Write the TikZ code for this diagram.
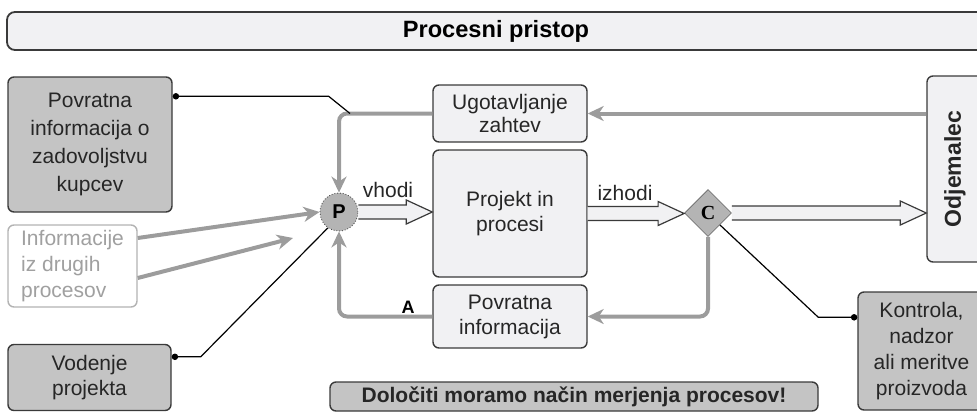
\documentclass[tikz,border=0pt]{standalone}
\usepackage{fontspec}
\usepackage{graphicx}
\setmainfont{Liberation Sans}
\newfontfamily\serifC{Liberation Serif}
\usetikzlibrary{calc}
\usetikzlibrary{arrows.meta}
\usetikzlibrary{shapes.geometric}

\definecolor{boxdark}{HTML}{C4C4C4}
\definecolor{boxlight}{HTML}{F1F1F3}
\definecolor{feedgray}{HTML}{9C9C9C}
\definecolor{edgegray}{HTML}{3A3A3A}
\definecolor{ghostgray}{HTML}{A0A0A0}
\definecolor{knotgray}{HTML}{B4B4B4}

\begin{document}
\begin{tikzpicture}[x=0.5pt, y=-0.5pt,
  box/.style={draw=edgegray, line width=0.7pt, rounded corners=3pt, align=center, inner sep=0pt, text=black!85, font=\fontsize{10.5}{13}\selectfont},
  darkbox/.style={box, fill=boxdark},
  lightbox/.style={box, fill=boxlight},
  ghostbox/.style={box, draw=ghostgray!80, fill=white, text=ghostgray, align=left},
  feed/.style={feedgray, line width=2pt, rounded corners=4pt, -{Stealth[length=8pt,width=7.5pt,inset=2.5pt]}},
  wire/.style={black, line width=0.6pt, {Circle[length=3.2pt]}-},
  hollow/.style={draw=edgegray, fill=boxlight, line width=0.6pt,
    to path={let \p1=(\tikztostart), \p2=(\tikztotarget) in
      (\x1,\y1+3.5pt) -- (\x2-13pt,\y1+3.5pt) -- (\x2-13pt,\y1+6pt) -- (\x2,\y1)
      -- (\x2-13pt,\y1-6pt) -- (\x2-13pt,\y1-3.5pt) -- (\x1,\y1-3.5pt)}},
  lbl/.style={font=\fontsize{10.5}{12}\selectfont, text=black!85, inner sep=0pt}]

\useasboundingbox (0,0) rectangle (977,412);

\node[draw=edgegray, line width=0.9pt, fill=boxlight, rounded corners=4pt, minimum width=489pt, minimum height=19pt, font=\bfseries\fontsize{11.8}{14}\selectfont] (naslov) at (496,31) {Procesni pristop};

\node[darkbox, minimum width=82pt, minimum height=67.5pt, font=\fontsize{10.5}{14}\selectfont] (kupci) at (90,144.5) {Povratna\\informacija o\\zadovoljstvu\\kupcev};
\node[ghostbox, minimum width=64.5pt, minimum height=41pt] (drugi) at (72.5,266) {Informacije\\iz drugih\\procesov};
\node[darkbox, minimum width=81.5pt, minimum height=33pt, font=\fontsize{10.5}{12.5}\selectfont] (vodenje) at (89.5,377.5) {Vodenje\\projekta};

\node[lightbox, minimum width=77pt, minimum height=28.5pt, font=\fontsize{10.5}{11.5}\selectfont] (zahteve) at (510,113.5) {Ugotavljanje\\zahtev};
\node[lightbox, minimum width=77pt, minimum height=63.5pt, font=\fontsize{10.5}{12.5}\selectfont] (projekt) at (510,213.5) {Projekt in\\procesi};
\node[lightbox, minimum width=77pt, minimum height=31.5pt, font=\fontsize{10.5}{12.5}\selectfont] (povratna) at (510,316.5) {Povratna\\informacija};

\node[lightbox, minimum width=28pt, minimum height=93pt] (odjemalec) at (955,169) {\rotatebox{90}{\bfseries\fontsize{11.5}{13}\selectfont Odjemalec}};
\node[darkbox, minimum width=63.5pt, minimum height=59pt] (kontrola) at (921.5,351) {Kontrola,\\nadzor\\ali meritve\\proizvoda};
\node[darkbox, minimum width=244pt, minimum height=14.5pt, font=\bfseries\fontsize{10.5}{12}\selectfont] (merjenje) at (574,396.5) {Določiti moramo način merjenja procesov!};

\node[circle, draw=edgegray, densely dotted, fill=knotgray, minimum size=19pt, inner sep=0pt, font=\bfseries\fontsize{10}{10}\selectfont] (P) at (339,212) {P};
\node[diamond, draw=edgegray!70, fill=knotgray, minimum width=23.5pt, minimum height=23.5pt, inner sep=0pt, font=\serifC\bfseries\fontsize{10}{10}\selectfont] (C) at (708,213) {C};

\draw[feed] (odjemalec.west |- zahteve.east) -- (zahteve.east);
\draw[feed] (zahteve.west) -| (P.north);
\draw[feed] (povratna.west) -| (P.south);
\draw[feed] (C.south) |- (povratna.east);
\draw[feed] ([yshift=14pt]drugi.east) -- (P.west);
\coordinate (drugi-konec) at (293,238);
\draw[feed] ([yshift=-6pt]drugi.east) -- (drugi-konec);

\coordinate (spoj) at (350,113.5);
\draw[wire] ([yshift=-10pt]kupci.north east) -- ++(78pt,0) -- (spoj);
\draw[wire] ([yshift=-6.5pt]vodenje.north east) -- ++(14.5pt,0) -- (P.235);
\draw[wire] ([yshift=-13pt]kontrola.north west) -- ++(-19.5pt,0) -- (C.south east);

\draw[hollow] (P.east) to (projekt.west);
\draw[hollow] (projekt.east) to (C.west);
\draw[hollow] (C.east) to (C.east -| odjemalec.west);

\node[lbl] (vhodi) at (388,190) {vhodi};
\node[lbl] (izhodi) at (625,193) {izhodi};
\node[font=\bfseries\fontsize{9}{9}\selectfont, inner sep=0pt] (a) at (408,307) {A};

\end{tikzpicture}
\end{document}
